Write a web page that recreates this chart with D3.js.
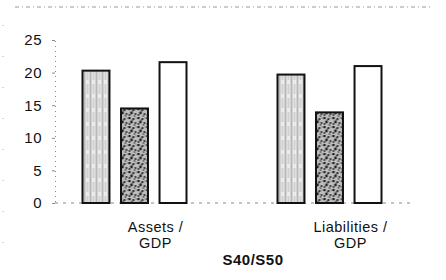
<!DOCTYPE html>
<html>
<head>
<meta charset="utf-8">
<script src="https://cdn.jsdelivr.net/npm/d3@7"></script>
<style>
  body { margin: 0; background: #fff; }
  svg text { font-family: "Liberation Sans", Arial, sans-serif; fill: #111; }
</style>
</head>
<body>
<svg id="chart" width="446" height="280"></svg>
<script>
const categories = ["Assets /\nGDP", "Liabilities /\nGDP"];
const series = ["s1", "s2", "s3"];
const values = [
  [20.3, 14.5, 21.6],
  [19.7, 13.9, 21.0]
];
const yTicks = [0, 5, 10, 15, 20, 25];
const groupTitle = "S40/S50";

const width = 446, height = 280;
const svg = d3.select("#chart");

// patterns for the scanned-looking fills
const defs = svg.append("defs");
const stripes = defs.append("pattern")
  .attr("id", "stripes")
  .attr("patternUnits", "userSpaceOnUse")
  .attr("width", 6).attr("height", 14);
stripes.append("rect").attr("width", 6).attr("height", 14).attr("fill", "#ececec");
stripes.append("line").attr("x1", 1).attr("x2", 1).attr("y1", 0).attr("y2", 14)
  .attr("stroke", "#666").attr("stroke-width", 0.8);
stripes.append("line").attr("x1", 4).attr("x2", 4).attr("y1", 0).attr("y2", 10)
  .attr("stroke", "#999").attr("stroke-width", 0.7);

const speckle = defs.append("pattern")
  .attr("id", "speckle")
  .attr("patternUnits", "userSpaceOnUse")
  .attr("width", 9).attr("height", 9);
speckle.append("rect").attr("width", 9).attr("height", 9).attr("fill", "#bdbdbd");
[[1,1,1.3],[5,2,1.1],[3,5,1.4],[7,6,1],[1,7,0.9],[6,8,0.8],[4,3,0.7],[8,1,0.6]].forEach(([x, y, r]) =>
  speckle.append("circle").attr("cx", x).attr("cy", y).attr("r", r).attr("fill", "#222"));

const fills = { s1: "url(#stripes)", s2: "url(#speckle)", s3: "#fff" };

const y = d3.scaleLinear().domain([0, 25]).range([203, 40]);
const x = d3.scaleBand().domain(categories).range([58, 448]).padding(0);
const xSub = d3.scaleBand().domain(series).range([-73, 31]).paddingInner(0.3);

// top dotted rule
svg.append("line")
  .attr("x1", 15).attr("x2", 432).attr("y1", 7).attr("y2", 7)
  .attr("stroke", "#999").attr("stroke-width", 1).attr("stroke-dasharray", "4,3,1,3");

// y axis
const yAxis = svg.append("g")
  .attr("transform", "translate(55,0)")
  .call(d3.axisLeft(y).tickValues(yTicks).tickSize(3).tickPadding(10));
yAxis.select(".domain").attr("stroke", "#888").attr("stroke-dasharray", "1,4");
yAxis.selectAll(".tick line").attr("stroke", "#888");
yAxis.selectAll("text").attr("font-size", 15).attr("letter-spacing", 0.5);

// baseline
svg.append("line")
  .attr("x1", 55).attr("x2", 410).attr("y1", y(0)).attr("y2", y(0))
  .attr("stroke", "#888").attr("stroke-dasharray", "3,5");

// bars
const groups = svg.append("g").selectAll("g")
  .data(categories)
  .join("g")
  .attr("transform", d => `translate(${x(d) + x.bandwidth() / 2},0)`);

groups.selectAll("rect")
  .data((d, i) => values[i].map((v, j) => ({ key: series[j], v })))
  .join("rect")
  .attr("x", d => xSub(d.key))
  .attr("width", xSub.bandwidth())
  .attr("y", d => y(d.v))
  .attr("height", d => y(0) - y(d.v))
  .attr("fill", d => fills[d.key])
  .attr("stroke", "#111")
  .attr("stroke-width", 2);

// category labels
groups.append("text")
  .attr("text-anchor", "middle")
  .attr("font-size", 14.5)
  .attr("letter-spacing", 0.5)
  .selectAll("tspan")
  .data(d => d.split("\n"))
  .join("tspan")
  .attr("x", 0)
  .attr("y", (d, i) => 232 + i * 16)
  .text(d => d);

svg.append("text")
  .attr("x", 253).attr("y", 265)
  .attr("text-anchor", "middle")
  .attr("font-size", 15)
  .attr("font-weight", "bold")
  .attr("letter-spacing", 0.5)
  .text(groupTitle);

// faint marks at left edge
svg.append("line")
  .attr("x1", 3).attr("x2", 3).attr("y1", 25).attr("y2", 250)
  .attr("stroke", "#aaa").attr("stroke-dasharray", "1,30");
</script>
</body>
</html>
